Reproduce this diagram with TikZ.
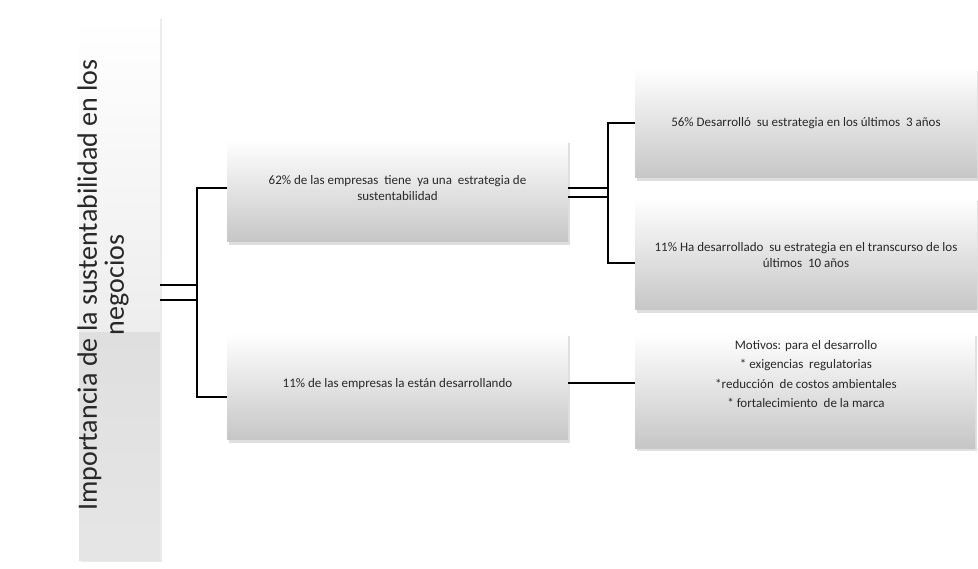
\documentclass[tikz,border=0pt]{standalone}
\usepackage{fontspec}
\setmainfont{Carlito}
\usetikzlibrary{calc}
\definecolor{boxbottom}{RGB}{198,198,198}
\definecolor{boxshadow}{RGB}{150,150,150}
\definecolor{txt}{RGB}{40,40,40}
\begin{document}
\begin{tikzpicture}[x=1pt,y=-1pt,
  box/.style={top color=white, bottom color=boxbottom, draw=none,
    minimum width=#1, inner sep=0pt, outer sep=0pt},
  box/.default=341pt,
  boxshade/.style={fill=boxshadow, opacity=0.3},
  label/.style={text=txt, align=center, inner sep=0pt,
    font=\fontsize{13}{16}\selectfont},
  wire/.style={line width=1.7pt, black}]
\useasboundingbox[fill=white] (0,0) rectangle (978,569);

% tall title panel: lighter upper part, flatter grey lower part
\fill[boxshadow, opacity=0.2] (81,19) rectangle (162,562);
\shade[top color=white, bottom color=gray!14] (79,17) rectangle (160,333);
\shade[top color=gray!25, bottom color=gray!20] (79,333) rectangle (160,560);
\node[minimum width=81pt, minimum height=543pt, inner sep=0pt] (t) at (119.5,288.5) {};
\node[rotate=90, align=center, text=txt, inner sep=0pt,
  font=\fontsize{28}{27}\selectfont] (title) at (103,285)
  {Importancia de la sustentabilidad en los\\negocios};

% shadows under the boxes
\fill[boxshade] (229,143) rectangle (570,245);
\fill[boxshade] (229,336) rectangle (570,443);
\fill[boxshade] (637,71) rectangle (979,181);
\fill[boxshade] (637,201) rectangle (979,313);
\fill[boxshade] (637,336) rectangle (977,451);

% boxes
\node[box, minimum height=102pt] (b1) at (397.5,191) {};
\node[box, minimum height=107pt] (b2) at (397.5,386.5) {};
\node[box=342pt, minimum height=110pt] (b3) at (806,123) {};
\node[box=342pt, minimum height=112pt] (b4) at (806,254) {};
\node[box=340pt, minimum height=115pt] (b5) at (805,390.5) {};

% texts
\node[label] (l1) at (397.5,188) {62\% de las empresas \ tiene \ ya una \ estrategia de\\sustentabilidad};
\node[label] (l2) at (397.5,384) {11\% de las empresas la están desarrollando};
\node[label] (l3) at (806,123) {56\% Desarrolló \ su estrategia en los últimos \ 3 años};
\node[label] (l4) at (806,255) {11\% Ha desarrollado \ su estrategia en el transcurso de los\\últimos \ 10 años};
\node[label, font=\fontsize{13}{19.3}\selectfont] (l5) at (806,374)
  {Motivos: para el desarrollo\\* exigencias \ regulatorias\\*reducción \ de costos ambientales\\* fortalecimiento \ de la marca};

% junction points of the brackets
\coordinate (ja) at (197,285);
\coordinate (jb) at (197,300);
\coordinate (jt) at (197,188);
\coordinate (jd) at (197,397);
\coordinate (ka) at (608,188);
\coordinate (kb) at (608,197);
\coordinate (kt) at (608,123);
\coordinate (kd) at (608,263);

% connectors
\draw[wire] (t.east |- ja) -- (ja);
\draw[wire] (t.east |- jb) -- (jb);
\draw[wire] (b1.west |- jt) -- (jt) -- (jd) -- (b2.west |- jd);
\draw[wire] (b1.east |- ka) -- (ka);
\draw[wire] (b1.east |- kb) -- (kb);
\draw[wire] (b3.west |- kt) -- (kt) -- (kd) -- (b4.west |- kd);
\draw[wire] (b2.east |- 0,383) -- (b5.west |- 0,383);
\end{tikzpicture}
\end{document}
